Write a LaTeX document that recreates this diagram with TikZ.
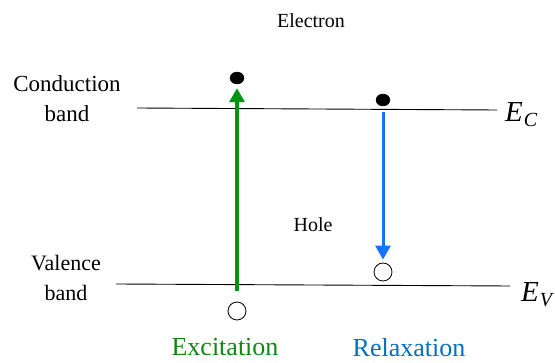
\documentclass[tikz,border=0pt]{standalone}
\usepackage{fontspec}
\setmainfont{Liberation Serif}
\usepackage{tikz}
\usetikzlibrary{arrows.meta,calc,shapes.geometric}

\definecolor{exgreen}{RGB}{0,150,20}
\definecolor{exgreentxt}{RGB}{16,135,16}
\definecolor{rlblue}{RGB}{20,115,255}
\definecolor{rlbluetxt}{RGB}{0,112,192}

\newcommand{\enlev}[1]{\textit{E}\kern1pt\raisebox{-5pt}{\fontsize{20}{20}\selectfont\textit{#1}}}

\begin{document}
\begin{tikzpicture}[
  x=1pt, y=-1pt,
  lbl/.style={align=center,inner sep=0pt,font=\fontsize{23}{30}\selectfont},
  small/.style={inner sep=0pt,anchor=base,font=\fontsize{20}{24}\selectfont},
  big/.style={inner sep=0pt,anchor=base,font=\fontsize{26}{30}\selectfont},
  elec/.style={draw,fill=black,ellipse,minimum width=14pt,minimum height=12pt,inner sep=0pt},
  hole/.style={draw,circle,line width=0.8pt,minimum size=18pt,inner sep=0pt},
  lev/.style={line width=0.9pt},
  enl/.style={inner sep=0pt,anchor=base west,font=\fontsize{29}{30}\selectfont},
  arr/.style={line width=3.5pt,-{Triangle[length=14pt,width=15pt]}}
]
\useasboundingbox (0,0) rectangle (555,363);
\node[lbl] (cb) at (67,99) {Conduction\\band};
\node[lbl,font=\fontsize{22}{30}\selectfont] (vb) at (66,278) {Valence\\band};
\node[small] (etxt) at (311,28) {Electron};
\node[small] (htxt) at (313,232) {Hole};
\node[big,text=exgreentxt] (extxt) at (225,356) {Excitation};
\node[big,text=rlbluetxt] (rltxt) at (409,357) {Relaxation};
% band edges
\coordinate (cl) at (137,108);
\coordinate (cr) at (497,110);
\coordinate (vl) at (116,284);
\coordinate (vr) at (510,286);
\draw[lev] (cl) -- (cr);
\draw[lev] (vl) -- (vr);
\node[enl] (ec) at (505,122) {\enlev{C}};
\node[enl] (ev) at (521,302) {\enlev{V}};
% carriers
\node[elec] (e1) at (237,78) {};
\node[elec] (e2) at (383,100) {};
\node[hole] (h1) at (237,311) {};
\node[hole] (h2) at (383,272) {};
\coordinate (exbot) at (237,291);
\draw[arr,exgreen,shorten >=4pt] (exbot) -- (e1);
\draw[arr,rlblue,line width=3pt,shorten <=6pt,shorten >=3pt] (e2) -- (h2);
\end{tikzpicture}
\end{document}
